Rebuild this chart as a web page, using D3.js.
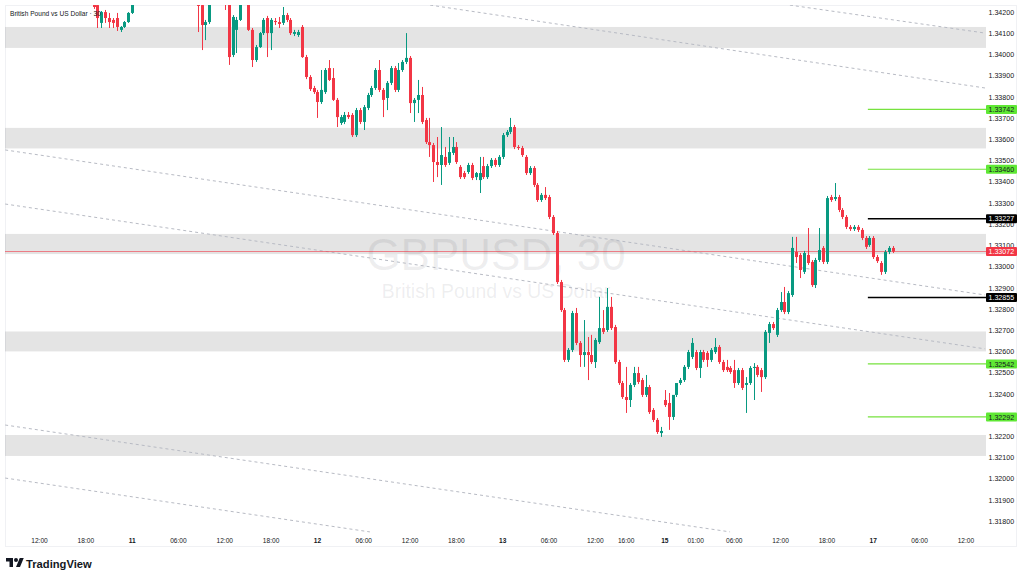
<!DOCTYPE html>
<html><head><meta charset="utf-8">
<script src="https://cdn.jsdelivr.net/npm/d3@7/dist/d3.min.js"></script>
<style>html,body{margin:0;padding:0;background:#fff;}svg{display:block;font-family:"Liberation Sans",Arial,sans-serif;}</style>
</head><body><svg id="c" width="1024" height="580"></svg>
<script>
// ---------- DATA ----------
const symbolTitle = "British Pound vs US Dollar · 30";
const watermark = "GBPUSD, 30";
const watermarkSub = "British Pound vs US Dollar";
// candle segments: [first bar index, count] (bars not listed lie above the visible range)
const segments = [[14,11],[41,4],[48,5],[54,168]];
const open = [
1.34239,1.34234,1.34150,1.34201,1.34173,1.34164,1.34173,1.34117,1.34131,1.34154,1.34197,
1.34272,1.34234,1.34140,1.34154,
1.34282,1.34267,1.33999,1.34117,1.34164,
1.34263,1.34117,1.33975,1.34036,1.34102,1.34173,1.34102,1.34159,1.34154,1.34150,
1.34187,1.34164,1.34098,1.34093,1.34131,1.33989,1.33895,1.33843,1.33824,1.33777,
1.33824,1.33937,1.33890,1.33787,1.33678,1.33683,1.33716,1.33716,1.33621,1.33739,
1.33683,1.33749,1.33810,1.33843,1.33928,1.33834,1.33796,1.33867,1.33937,1.33834,
1.33928,1.33966,1.33985,1.33772,1.33787,1.33810,1.33692,1.33588,1.33574,1.33494,
1.33480,1.33518,1.33490,1.33537,1.33565,1.33471,1.33442,1.33447,1.33480,1.33423,
1.33409,1.33475,1.33423,1.33475,1.33504,1.33480,1.33518,1.33621,1.33636,1.33659,
1.33565,1.33560,1.33518,1.33442,1.33466,1.33386,1.33315,1.33339,1.33329,1.33235,
1.33159,1.32928,1.32796,1.32561,1.32608,1.32782,1.32641,1.32584,1.32598,1.32584,
1.32551,1.32645,1.32711,1.32702,1.32811,1.32716,1.32551,1.32452,1.32386,1.32372,
1.32443,1.32499,1.32466,1.32396,1.32433,1.32325,1.32278,1.32216,1.32372,1.32358,
1.32292,1.32396,1.32452,1.32466,1.32528,1.32575,1.32598,1.32523,1.32598,1.32594,
1.32561,1.32598,1.32622,1.32551,1.32528,1.32523,1.32513,1.32452,1.32513,1.32443,
1.32452,1.32523,1.32528,1.32513,1.32480,1.32688,1.32730,1.32679,1.32796,1.32834,
1.32787,1.32867,1.33070,1.33056,1.32976,1.33056,1.33023,1.32914,1.33032,1.33089,
1.33023,1.33329,1.33320,1.33329,1.33268,1.33235,1.33188,1.33178,1.33188,1.33174,
1.33136,1.33103,1.33136,1.33046,1.33018,1.32976,1.33070,1.33089];
const high = [
1.34249,1.34244,1.34206,1.34211,1.34197,1.34173,1.34197,1.34135,1.34159,1.34201,1.34282,
1.34296,1.34258,1.34164,1.34296,
1.34296,1.34282,1.34187,1.34178,1.34282,
1.34277,1.34126,1.34046,1.34107,1.34173,1.34183,1.34173,1.34173,1.34178,1.34225,
1.34197,1.34173,1.34117,1.34117,1.34140,1.33999,1.33904,1.33853,1.33834,1.33928,
1.33937,1.33975,1.33937,1.33796,1.33716,1.33730,1.33730,1.33725,1.33749,1.33749,
1.33763,1.33820,1.33853,1.33937,1.33975,1.33843,1.33876,1.33947,1.33947,1.33961,
1.33975,1.34102,1.33994,1.33796,1.33881,1.33848,1.33702,1.33702,1.33584,1.33612,
1.33659,1.33565,1.33612,1.33612,1.33588,1.33480,1.33452,1.33490,1.33490,1.33447,
1.33518,1.33518,1.33485,1.33513,1.33513,1.33527,1.33631,1.33645,1.33702,1.33669,
1.33574,1.33570,1.33527,1.33475,1.33475,1.33395,1.33348,1.33376,1.33339,1.33244,
1.33169,1.32938,1.32806,1.32617,1.32792,1.32806,1.32650,1.32749,1.32669,1.32679,
1.32664,1.32858,1.32796,1.32900,1.32858,1.32726,1.32561,1.32462,1.32528,1.32452,
1.32528,1.32528,1.32476,1.32490,1.32443,1.32334,1.32287,1.32245,1.32419,1.32405,
1.32301,1.32405,1.32476,1.32537,1.32608,1.32664,1.32608,1.32608,1.32608,1.32603,
1.32617,1.32664,1.32631,1.32561,1.32561,1.32532,1.32561,1.32523,1.32523,1.32480,
1.32532,1.32546,1.32537,1.32523,1.32702,1.32740,1.32740,1.32806,1.32881,1.32905,
1.32886,1.33141,1.33141,1.33065,1.33075,1.33183,1.33032,1.33042,1.33183,1.33098,
1.33334,1.33339,1.33395,1.33339,1.33277,1.33244,1.33197,1.33197,1.33197,1.33183,
1.33145,1.33145,1.33145,1.33056,1.33027,1.33079,1.33098,1.33098];
const low = [
1.34216,1.34126,1.34126,1.34150,1.34126,1.34126,1.34112,1.34107,1.34126,1.34150,1.34192,
1.34107,1.34022,1.34069,1.34145,
1.34211,1.33952,1.33989,1.34008,1.34159,
1.34112,1.33942,1.33966,1.34032,1.34093,1.33989,1.34022,1.34140,1.34126,1.34140,
1.34154,1.34093,1.34088,1.34084,1.33985,1.33885,1.33829,1.33815,1.33702,1.33768,
1.33815,1.33876,1.33782,1.33659,1.33669,1.33673,1.33697,1.33612,1.33612,1.33673,
1.33645,1.33739,1.33801,1.33834,1.33824,1.33706,1.33739,1.33857,1.33824,1.33824,
1.33919,1.33956,1.33725,1.33683,1.33725,1.33673,1.33579,1.33518,1.33400,1.33423,
1.33386,1.33471,1.33480,1.33527,1.33485,1.33414,1.33414,1.33438,1.33409,1.33409,
1.33348,1.33414,1.33414,1.33466,1.33471,1.33471,1.33508,1.33612,1.33626,1.33555,
1.33551,1.33518,1.33433,1.33433,1.33376,1.33306,1.33306,1.33315,1.33225,1.33150,
1.32919,1.32787,1.32551,1.32551,1.32598,1.32631,1.32528,1.32528,1.32466,1.32542,
1.32523,1.32636,1.32683,1.32693,1.32702,1.32542,1.32443,1.32377,1.32311,1.32339,
1.32433,1.32447,1.32386,1.32386,1.32306,1.32268,1.32212,1.32198,1.32339,1.32231,
1.32278,1.32386,1.32443,1.32457,1.32518,1.32565,1.32513,1.32476,1.32551,1.32528,
1.32551,1.32589,1.32542,1.32504,1.32504,1.32495,1.32429,1.32443,1.32419,1.32311,
1.32443,1.32372,1.32480,1.32410,1.32471,1.32641,1.32702,1.32669,1.32787,1.32777,
1.32777,1.32858,1.33018,1.32947,1.32966,1.33009,1.32905,1.32900,1.33023,1.33013,
1.33013,1.33306,1.33310,1.33258,1.33225,1.33178,1.33169,1.33169,1.33164,1.33126,
1.33084,1.33094,1.33037,1.33018,1.32962,1.32966,1.33060,1.33065];
const close = [
1.34225,1.34173,1.34201,1.34173,1.34154,1.34150,1.34131,1.34131,1.34154,1.34197,1.34272,
1.34230,1.34140,1.34154,1.34272,
1.34267,1.33989,1.34178,1.34164,1.34267,
1.34117,1.33975,1.34036,1.34102,1.34164,1.34102,1.34164,1.34154,1.34145,1.34187,
1.34164,1.34102,1.34107,1.34107,1.33989,1.33895,1.33838,1.33824,1.33777,1.33834,
1.33928,1.33881,1.33787,1.33706,1.33706,1.33716,1.33706,1.33621,1.33739,1.33683,
1.33753,1.33810,1.33843,1.33928,1.33834,1.33787,1.33867,1.33937,1.33834,1.33928,
1.33966,1.33985,1.33772,1.33787,1.33810,1.33683,1.33588,1.33574,1.33494,1.33480,
1.33527,1.33480,1.33541,1.33565,1.33494,1.33423,1.33423,1.33480,1.33419,1.33442,
1.33442,1.33423,1.33475,1.33504,1.33480,1.33518,1.33621,1.33636,1.33659,1.33565,
1.33560,1.33527,1.33442,1.33466,1.33386,1.33315,1.33339,1.33324,1.33235,1.33159,
1.32928,1.32796,1.32561,1.32608,1.32782,1.32641,1.32584,1.32598,1.32584,1.32551,
1.32655,1.32711,1.32693,1.32811,1.32711,1.32551,1.32452,1.32386,1.32372,1.32443,
1.32499,1.32457,1.32396,1.32433,1.32315,1.32278,1.32221,1.32226,1.32348,1.32292,
1.32396,1.32452,1.32466,1.32528,1.32598,1.32641,1.32523,1.32598,1.32561,1.32561,
1.32608,1.32622,1.32551,1.32513,1.32513,1.32504,1.32452,1.32513,1.32429,1.32452,
1.32523,1.32528,1.32490,1.32480,1.32693,1.32730,1.32711,1.32796,1.32834,1.32787,
1.32876,1.33089,1.33046,1.32985,1.33065,1.33018,1.32914,1.33032,1.33079,1.33023,
1.33324,1.33315,1.33329,1.33268,1.33235,1.33188,1.33178,1.33188,1.33174,1.33136,
1.33094,1.33136,1.33046,1.33027,1.32976,1.33070,1.33089,1.33072];

// grey zones [low, high]
const zoneLow  = [1.34032, 1.33558, 1.33060, 1.32601, 1.32108];
const zoneHigh = [1.34131, 1.33655, 1.33155, 1.32695, 1.32207];
// dashed trend lines: bar index and price at both ends
const trendBar1   = [194.4, 101.2, -8.9, -8.9, -8.9, -8.9];
const trendPrice1 = [1.34234, 1.34234, 1.33551, 1.33296, 1.32254, 1.32004];
const trendBar2   = [245, 245, 245, 245, 178.9, 85.6];
const trendPrice2 = [1.34102, 1.33843, 1.32867, 1.32613, 1.31750, 1.31750];
// horizontal levels
const greenLevels = [1.33742, 1.33460, 1.32542, 1.32292];
const blackLevels = [1.33227, 1.32855];
const levelStartBar = 214.6;
// axes
const priceTicks = [1.342,1.341,1.340,1.339,1.338,1.337,1.336,1.335,1.334,1.333,1.332,1.331,1.330,1.329,1.328,1.327,1.326,1.325,1.324,1.323,1.322,1.321,1.320,1.319,1.318];
const timeTickBars   = [0,12,24,36,48,60,72,84,96,108,120,132,144,152,162,170,180,192,204,216,228,240];
const timeTickLabels = ["12:00","18:00","11","06:00","12:00","18:00","12","06:00","12:00","18:00","13","06:00","12:00","16:00","15","01:00","06:00","12:00","18:00","17","06:00","12:00"];
const dayLabels = ["11","12","13","15","17"];

// ---------- CHART ----------
const svg = d3.select("#c");
const pane = {l:5, r:986, t:5, b:533};
const x = d3.scaleLinear().domain([0,240]).range([39.5, 39.5+3.86*240]);
const y = d3.scaleLinear().domain([1.318,1.342]).range([521.3,12.3]);
const UP="#089981", DN="#f23645", TXT="#131722", GREEN="#76e23e";

svg.append("rect").attr("width",1024).attr("height",580).attr("fill","#fff");
svg.append("rect").attr("x",5.5).attr("y",5.5).attr("width",1011).attr("height",541)
  .attr("fill","none").attr("stroke","#f0f1f4");

svg.append("defs").append("clipPath").attr("id","pc").append("rect")
  .attr("x",pane.l).attr("y",pane.t).attr("width",pane.r-pane.l).attr("height",pane.b-pane.t);
const g = svg.append("g").attr("clip-path","url(#pc)");

// watermark
g.append("text").attr("x",496).attr("y",270).attr("text-anchor","middle")
  .attr("font-size",44).attr("fill","#787b86").attr("fill-opacity",0.13).text(watermark);
g.append("text").attr("x",496).attr("y",297.5).attr("text-anchor","middle")
  .attr("font-size",19.4).attr("fill","#787b86").attr("fill-opacity",0.13).text(watermarkSub);

// zones
g.selectAll("rect.zone").data(d3.range(zoneLow.length)).join("rect").attr("class","zone")
  .attr("x",pane.l).attr("width",pane.r-pane.l)
  .attr("y",i=>y(zoneHigh[i])).attr("height",i=>y(zoneLow[i])-y(zoneHigh[i]))
  .attr("fill","#000").attr("fill-opacity",0.105);

// trend lines
g.selectAll("line.trend").data(d3.range(trendBar1.length)).join("line").attr("class","trend")
  .attr("x1",i=>x(trendBar1[i])).attr("y1",i=>y(trendPrice1[i]))
  .attr("x2",i=>x(trendBar2[i])).attr("y2",i=>y(trendPrice2[i]))
  .attr("stroke","#b8bbc4").attr("stroke-width",1).attr("stroke-dasharray","3,3");

// candles
const candles = [];
let k = 0;
segments.forEach(([s,n])=>{ for(let j=0;j<n;j++){ candles.push({i:s+j,o:open[k],h:high[k],l:low[k],c:close[k]}); k++; } });

const lastPrice = close[close.length-1];
g.append("line").attr("x1",pane.l).attr("x2",pane.r).attr("y1",y(lastPrice)).attr("y2",y(lastPrice))
  .attr("stroke",DN).attr("stroke-opacity",0.6).attr("stroke-width",1);

const cg = g.append("g");
candles.forEach(d=>{
  const xc = Math.round(x(d.i));
  const col = d.c>=d.o ? UP : DN;
  cg.append("rect").attr("x",xc).attr("width",1)
    .attr("y",y(d.h)).attr("height",Math.max(1,y(d.l)-y(d.h))).attr("fill",col);
  const top = y(Math.max(d.o,d.c)), bot = y(Math.min(d.o,d.c));
  cg.append("rect").attr("x",xc-1).attr("width",3)
    .attr("y",top).attr("height",Math.max(1,bot-top)).attr("fill",col);
});

// level lines
greenLevels.forEach(p=>{
  g.append("line").attr("x1",x(levelStartBar)).attr("x2",pane.r).attr("y1",y(p)).attr("y2",y(p))
    .attr("stroke",GREEN).attr("stroke-width",1.2);
});
blackLevels.forEach(p=>{
  g.append("line").attr("x1",x(levelStartBar)).attr("x2",pane.r).attr("y1",y(p)).attr("y2",y(p))
    .attr("stroke","#000").attr("stroke-width",1.5);
});

// legend title
svg.append("text").attr("x",10).attr("y",15.5).attr("font-size",6.6).attr("fill",TXT).text(symbolTitle);

// price axis
const ax = svg.append("g");
priceTicks.forEach(p=>{
  ax.append("text").attr("x",988.5).attr("y",y(p)+2.5).attr("font-size",7.1).attr("fill",TXT)
    .text(d3.format(".5f")(p));
});
function tag(p,bg,fg){
  ax.append("rect").attr("x",986).attr("y",y(p)-4.5).attr("width",31).attr("height",9).attr("rx",1).attr("fill",bg);
  ax.append("text").attr("x",988.5).attr("y",y(p)+2.6).attr("font-size",7.1).attr("fill",fg).text(d3.format(".5f")(p));
}
greenLevels.forEach(p=>tag(p,"#5fe834",TXT));
blackLevels.forEach(p=>tag(p,"#000","#fff"));
tag(lastPrice,DN,"#fff");

// time axis
timeTickBars.forEach((b,i)=>{
  const lab = timeTickLabels[i];
  svg.append("text").attr("x",x(b)).attr("y",542.5).attr("text-anchor","middle")
    .attr("font-size",6.6).attr("font-weight",dayLabels.includes(lab)?"bold":"normal")
    .attr("fill",TXT).text(lab);
});

// TradingView logo
const logo = svg.append("g").attr("transform","translate(6,556) scale(0.5)").attr("fill",TXT);
logo.append("path").attr("d","M14 22H7V11H0V4h14v18zM28 22h-8l7.5-18h8L28 22z");
logo.append("circle").attr("cx",20).attr("cy",8).attr("r",4);
svg.append("text").attr("x",26).attr("y",567.5).attr("font-size",11.2).attr("font-weight","bold")
  .attr("fill",TXT).text("TradingView");
</script></body></html>
